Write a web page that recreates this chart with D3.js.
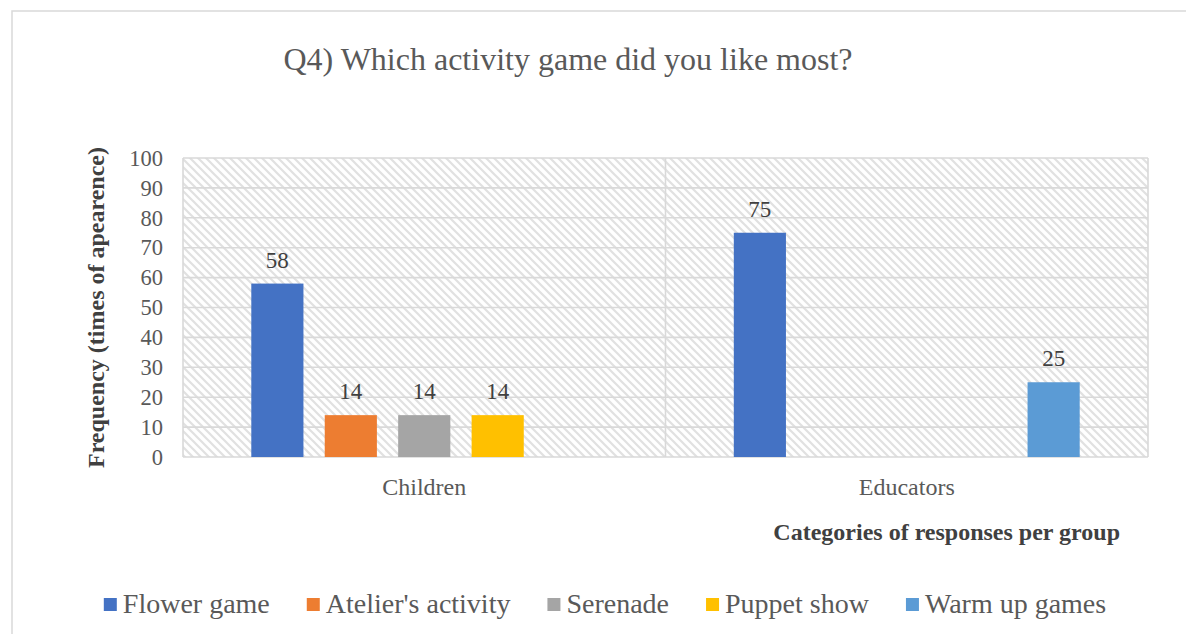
<!DOCTYPE html>
<html>
<head>
<meta charset="utf-8">
<script src="https://cdn.jsdelivr.net/npm/d3@7"></script>
<style>
  html, body { margin: 0; padding: 0; background: #ffffff; }
  svg { display: block; }
</style>
</head>
<body>
<svg id="chart" width="1186" height="634"></svg>
<script>
// Response groups on the x axis
const groups = ["Children", "Educators"];

// Series (one per activity) and their colours
const seriesNames = ["Flower game", "Atelier's activity", "Serenade", "Puppet show", "Warm up games"];
const seriesColors = ["#4472C4", "#ED7D31", "#A5A5A5", "#FFC000", "#5B9BD5"];

// Frequency per group (null = no response recorded)
const flowerGame       = [58, 75];
const ateliersActivity = [14, null];
const serenade         = [14, null];
const puppetShow       = [14, null];
const warmUpGames      = [null, 25];

const yTicks = [0, 10, 20, 30, 40, 50, 60, 70, 80, 90, 100];

const seriesValues = [flowerGame, ateliersActivity, serenade, puppetShow, warmUpGames];

const SERIF = "'Liberation Serif', 'Times New Roman', serif";

const svg = d3.select("#chart").style("font-family", SERIF);

// Outer chart frame
svg.append("rect")
  .attr("x", 12).attr("y", 11)
  .attr("width", 1220).attr("height", 700)
  .attr("fill", "#ffffff")
  .attr("stroke", "#d9d9d9").attr("stroke-width", 1.5);

// Plot area
const plot = { left: 183, right: 1148, top: 158, bottom: 457 };

// Diagonal hatch used as the plot-area fill
const defs = svg.append("defs");
const pat = defs.append("pattern")
  .attr("id", "hatch")
  .attr("patternUnits", "userSpaceOnUse")
  .attr("width", 8).attr("height", 8);
pat.append("rect").attr("width", 8).attr("height", 8).attr("fill", "#ffffff");
pat.append("path")
  .attr("d", "M-2,-2 L10,10 M-2,6 L2,10 M6,-2 L10,2")
  .attr("stroke", "#e1e1e1").attr("stroke-width", 2.2);

svg.append("rect")
  .attr("x", plot.left).attr("y", plot.top)
  .attr("width", plot.right - plot.left).attr("height", plot.bottom - plot.top)
  .attr("fill", "url(#hatch)");

// Scales
const x0 = d3.scaleBand()
  .domain(groups)
  .range([plot.left, plot.right])
  .padding(0);

const x1 = d3.scaleBand()
  .domain(seriesNames)
  .range([0, x0.bandwidth()])
  .paddingInner(0.29)
  .paddingOuter(0.93);

const y = d3.scaleLinear()
  .domain([0, 100])
  .range([plot.bottom, plot.top]);

// Horizontal gridlines
svg.append("g")
  .selectAll("line")
  .data(yTicks)
  .join("line")
  .attr("x1", plot.left).attr("x2", plot.right)
  .attr("y1", d => y(d)).attr("y2", d => y(d))
  .attr("stroke", "#d9d9d9").attr("stroke-width", 1.6);

// Vertical category separators and plot edges
const vLines = [plot.left, ...groups.slice(1).map(g => x0(g)), plot.right];
svg.append("g")
  .selectAll("line")
  .data(vLines)
  .join("line")
  .attr("x1", d => d).attr("x2", d => d)
  .attr("y1", plot.top).attr("y2", plot.bottom)
  .attr("stroke", "#d9d9d9").attr("stroke-width", 1.6);

// Y axis tick labels
const yAxis = d3.axisLeft(y).tickValues(yTicks).tickSize(0).tickPadding(0);
const yAxisG = svg.append("g")
  .attr("transform", `translate(${plot.left - 20},0)`)
  .call(yAxis);
yAxisG.select(".domain").remove();
yAxisG.attr("font-family", null);
yAxisG.selectAll("text")
  .style("font-family", SERIF)
  .style("font-size", "22.5px")
  .attr("fill", "#595959");

// X axis category labels
const xAxis = d3.axisBottom(x0).tickSize(0).tickPadding(0);
const xAxisG = svg.append("g")
  .attr("transform", `translate(0,${plot.bottom + 21})`)
  .call(xAxis);
xAxisG.select(".domain").remove();
xAxisG.attr("font-family", null);
xAxisG.selectAll("text")
  .style("font-family", SERIF)
  .style("font-size", "24px")
  .attr("fill", "#595959");

// Bars
const rows = [];
groups.forEach((g, gi) => {
  seriesNames.forEach((s, si) => {
    const v = seriesValues[si][gi];
    if (v !== null) rows.push({ group: g, series: s, value: v, color: seriesColors[si] });
  });
});

svg.append("g")
  .selectAll("rect")
  .data(rows)
  .join("rect")
  .attr("x", d => x0(d.group) + x1(d.series))
  .attr("y", d => y(d.value))
  .attr("width", x1.bandwidth())
  .attr("height", d => y(0) - y(d.value))
  .attr("fill", d => d.color);

// Value labels
svg.append("g")
  .selectAll("text")
  .data(rows)
  .join("text")
  .attr("x", d => x0(d.group) + x1(d.series) + x1.bandwidth() / 2)
  .attr("y", d => y(d.value) - 16)
  .attr("text-anchor", "middle")
  .style("font-family", SERIF)
  .style("font-size", "23px")
  .attr("fill", "#404040")
  .text(d => d.value);

// Chart title
svg.append("text")
  .attr("x", 568).attr("y", 70)
  .attr("text-anchor", "middle")
  .style("font-family", SERIF)
  .style("font-size", "32px")
  .attr("fill", "#595959")
  .text("Q4) Which activity game did you like most?");

// Y axis title
svg.append("text")
  .attr("transform", `translate(104,${(plot.top + plot.bottom) / 2}) rotate(-90)`)
  .attr("text-anchor", "middle")
  .style("font-family", SERIF)
  .style("font-size", "24px")
  .style("font-weight", "bold")
  .attr("fill", "#404040")
  .text("Frequency (times of apearence)");

// X axis title
svg.append("text")
  .attr("x", 1120).attr("y", 540)
  .attr("text-anchor", "end")
  .style("font-family", SERIF)
  .style("font-size", "24px")
  .style("font-weight", "bold")
  .attr("fill", "#404040")
  .text("Categories of responses per group");

// Legend
const legend = svg.append("g");
const swatch = 13, swGap = 6, itemGap = 37;
let cx = 0;
seriesNames.forEach((s, i) => {
  const item = legend.append("g").attr("transform", `translate(${cx},0)`);
  item.append("rect")
    .attr("x", 0).attr("y", -15)
    .attr("width", swatch).attr("height", swatch)
    .attr("fill", seriesColors[i]);
  const t = item.append("text")
    .attr("x", swatch + swGap).attr("y", 0)
    .style("font-family", SERIF)
    .style("font-size", "28px")
    .attr("fill", "#595959")
    .text(s);
  cx += swatch + swGap + t.node().getComputedTextLength() + itemGap;
});
const legendWidth = cx - itemGap;
legend.attr("transform", `translate(${605 - legendWidth / 2},613)`);
</script>
</body>
</html>
